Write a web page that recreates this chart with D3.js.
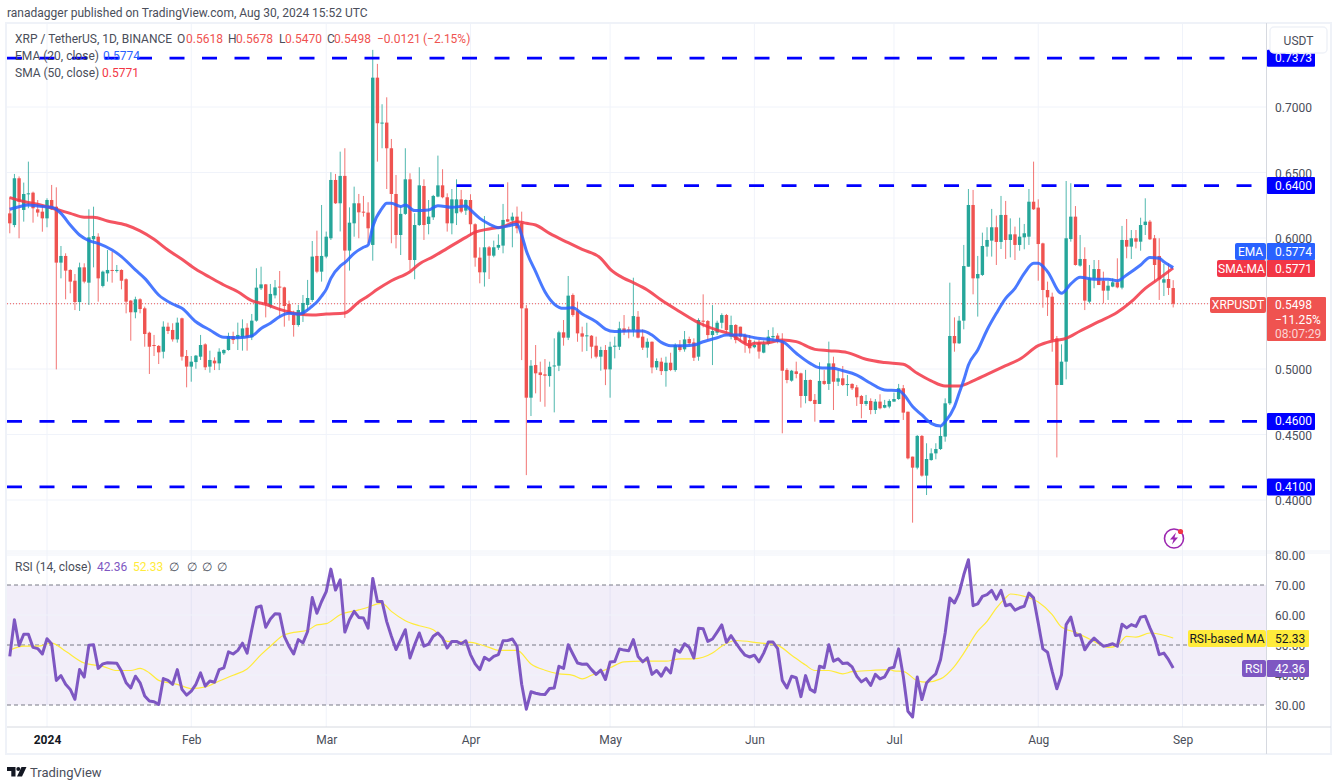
<!DOCTYPE html>
<html>
<head>
<meta charset="utf-8">
<title>XRP / TetherUS</title>
<script src="https://cdn.jsdelivr.net/npm/d3@7"></script>
<style>
    html, body { margin: 0; padding: 0; background: #fff; }
    svg { display: block; }
    text { font-family: Roboto, sans-serif; }
</style>
</head>
<body>
<svg id="chart" width="1338" height="784"></svg>
<script>
// Daily candles, 24 Dec 2023 to 30 Aug 2024
const firstDay = '2023-12-24';

const opens = [
    .6188,.6099,.6456,.6214,.6336,.6346,.6219,.6201,.6150,.6290,
    .6239,.5812,.5863,.5756,.5674,.5511,.5776,.5659,.5990,.6010,
    .5634,.5730,.5756,.5751,.5756,.5685,.5522,.5433,.5532,.5463,
    .5277,.5183,.5176,.5132,.5323,.5298,.5226,.5387,.5099,.5018,
    .5053,.5094,.5188,.5018,.5064,.5043,.5120,.5145,.5252,.5234,
    .5242,.5315,.5242,.5369,.5616,.5646,.5476,.5562,.5629,.5623,
    .5496,.5412,.5336,.5412,.5489,.5527,.5863,.5743,.5858,.5998,
    .6443,.6265,.6474,.5904,.6112,.6265,.6201,.6194,.5947,.7224,
    .6876,.6881,.6685,.6336,.6023,.6184,.6448,.5832,.6099,.6397,
    .6107,.6158,.6316,.6402,.6311,.6112,.6189,.6295,.6209,.6290,
    .6105,.5850,.5738,.5929,.5865,.5926,.5942,.6143,.6133,.6163,
    .6112,.5463,.4781,.5030,.4974,.4959,.4946,.5025,.5025,.5280,
    .5239,.5565,.5442,.5272,.5254,.5254,.5178,.5094,.5145,.4997,
    .5170,.5170,.5310,.5302,.5297,.5399,.5247,.5163,.5208,.5012,
    .5056,.4984,.5048,.4992,.5183,.5150,.5229,.5203,.5094,.5369,
    .5366,.5259,.5277,.5353,.5412,.5247,.5336,.5323,.5259,.5221,
    .5166,.5201,.5125,.5191,.5242,.5255,.5209,.4993,.4911,.4982,
    .4967,.4794,.4916,.4764,.4733,.4909,.4886,.5043,.4903,.4929,
    .4883,.4886,.4860,.4794,.4733,.4756,.4687,.4751,.4705,.4713,
    .4751,.4771,.4853,.4674,.4331,.4247,.4489,.4186,.4305,.4356,
    .4389,.4484,.4738,.5252,.5196,.5369,.5781,.6252,.5692,.5718,
    .5934,.5980,.6082,.5970,.6176,.5985,.6028,.5947,.6005,.6010,
    .6277,.6232,.5959,.5603,.5552,.5234,.4878,.5056,.5992,.6163,
    .5789,.5840,.5514,.5692,.5763,.5674,.5598,.5629,.5662,.5621,
    .5985,.5934,.5998,.5972,.6099,.6125,.5998,.5863,.5659,.5687,
    .5618
];
const highs = [
    .6316,.6489,.6470,.6423,.6583,.6354,.6290,.6252,.6303,.6405,
    .6387,.5939,.5883,.5761,.5725,.5812,.5807,.6219,.6239,.6036,
    .5751,.5908,.5896,.5794,.5761,.5692,.5527,.5552,.5540,.5476,
    .5285,.5260,.5183,.5364,.5354,.5349,.5392,.5392,.5145,.5099,
    .5107,.5260,.5196,.5140,.5089,.5158,.5150,.5277,.5285,.5354,
    .5379,.5349,.5420,.5769,.5781,.5649,.5649,.5679,.5748,.5628,
    .5522,.5445,.5489,.5565,.5680,.5977,.6056,.6252,.6049,.6502,
    .6489,.6659,.6685,.6234,.6392,.6336,.6321,.6273,.7436,.7329,
    .7021,.7074,.6756,.6481,.6240,.6685,.6494,.6189,.6540,.6448,
    .6290,.6329,.6629,.6525,.6341,.6374,.6448,.6367,.6295,.6334,
    .6112,.5929,.6168,.5939,.5980,.6028,.6260,.6425,.6194,.6240,
    .6201,.5488,.5068,.5183,.5056,.5076,.5056,.5234,.5292,.5374,
    .5710,.5577,.5514,.5323,.5353,.5259,.5247,.5170,.5183,.5208,
    .5247,.5361,.5412,.5323,.5697,.5442,.5303,.5234,.5210,.5081,
    .5086,.5094,.5124,.5196,.5221,.5290,.5247,.5234,.5387,.5570,
    .5374,.5488,.5369,.5425,.5420,.5407,.5343,.5323,.5272,.5259,
    .5217,.5222,.5217,.5298,.5318,.5273,.5273,.5006,.4993,.5056,
    .4972,.4993,.4921,.4809,.5051,.4993,.5209,.5094,.4993,.5023,
    .4954,.4891,.4878,.4802,.4802,.4776,.4771,.4807,.4764,.4769,
    .4820,.4886,.4878,.4674,.4331,.4496,.4496,.4433,.4394,.4433,
    .4560,.4776,.5659,.5394,.5405,.5947,.6374,.6367,.5863,.6041,
    .6082,.6222,.6171,.6321,.6283,.6150,.6087,.6155,.6107,.6374,
    .6583,.6295,.5964,.5667,.5583,.5252,.5188,.6435,.6418,.6244,
    .6023,.5929,.5794,.5832,.5832,.5743,.5674,.5692,.5845,.6092,
    .6145,.6061,.6061,.6155,.6303,.6138,.6023,.5998,.5802,.5807,
    .5678
];
const lows = [
    .6036,.6082,.5998,.6125,.6227,.6117,.6163,.6048,.6082,.6214,
    .4997,.5692,.5532,.5578,.5450,.5443,.5654,.5489,.5776,.5514,
    .5623,.5667,.5659,.5736,.5608,.5425,.5216,.5387,.5425,.5170,
    .4962,.5099,.5038,.5081,.5267,.5209,.5201,.5064,.4860,.4903,
    .5002,.5069,.4992,.4972,.4992,.4992,.5107,.5140,.5191,.5145,
    .5140,.5140,.5221,.5361,.5603,.5394,.5463,.5539,.5400,.5323,
    .5369,.5247,.5323,.5359,.5451,.5512,.5731,.5667,.5845,.5985,
    .6260,.6050,.5390,.5751,.6010,.5998,.6163,.5960,.5827,.6583,
    .6685,.6374,.5960,.5921,.5870,.6176,.5756,.5685,.6092,.5985,
    .6028,.6138,.6311,.6303,.6049,.6028,.6099,.6189,.6176,.6018,
    .5781,.5654,.5629,.5687,.5853,.5909,.5883,.6120,.5929,.6036,
    .5068,.4190,.4641,.4814,.4750,.4712,.4865,.4669,.4984,.5178,
    .5221,.5399,.5208,.5132,.5137,.5081,.5081,.4987,.4877,.4781,
    .5081,.5145,.5259,.5234,.5247,.5234,.5145,.5086,.4967,.4992,
    .4954,.4865,.4984,.4979,.5132,.5132,.5183,.5061,.5063,.5318,
    .5221,.5030,.5259,.5310,.5272,.5226,.5196,.5208,.5124,.5119,
    .5158,.5079,.5120,.5181,.5209,.5196,.4509,.4891,.4903,.4929,
    .4705,.4738,.4751,.4598,.4733,.4878,.4840,.4687,.4870,.4870,
    .4794,.4840,.4718,.4624,.4718,.4654,.4657,.4692,.4700,.4700,
    .4751,.4764,.4611,.4310,.3827,.4234,.4178,.4038,.4300,.4311,
    .4382,.4445,.4725,.5132,.5191,.5303,.5781,.5570,.5400,.5710,
    .5858,.5858,.5794,.5916,.5840,.5852,.5832,.5903,.5914,.5947,
    .6214,.5674,.5468,.5405,.5132,.4325,.4878,.4921,.5972,.5789,
    .5781,.5450,.5501,.5616,.5641,.5501,.5527,.5624,.5616,.5608,
    .5845,.5840,.5921,.5903,.6023,.5985,.5667,.5527,.5557,.5565,
    .5470
];
const closes = [
    .6112,.6456,.6278,.6336,.6341,.6227,.6194,.6150,.6290,.6219,
    .5812,.5863,.5751,.5667,.5511,.5776,.5667,.6005,.6015,.5692,
    .5743,.5756,.5751,.5756,.5674,.5514,.5433,.5532,.5458,.5267,
    .5170,.5178,.5127,.5323,.5290,.5226,.5354,.5094,.5018,.5056,
    .5102,.5183,.5013,.5069,.5043,.5132,.5145,.5252,.5221,.5260,
    .5310,.5242,.5369,.5621,.5646,.5496,.5573,.5623,.5623,.5481,
    .5425,.5336,.5450,.5504,.5542,.5858,.5743,.5863,.6010,.6443,
    .6265,.6474,.5904,.6117,.6265,.6196,.6196,.6074,.7224,.6876,
    .6881,.6685,.6336,.6023,.6184,.6448,.5832,.6099,.6402,.6099,
    .6163,.6321,.6402,.6311,.6112,.6295,.6295,.6201,.6290,.6105,
    .5850,.5738,.5929,.5865,.5929,.5947,.6138,.6125,.6163,.6074,
    .5463,.4781,.5025,.4967,.4954,.4949,.5017,.5027,.5280,.5239,
    .5560,.5412,.5272,.5247,.5257,.5170,.5094,.5145,.4997,.5170,
    .5178,.5310,.5285,.5297,.5404,.5239,.5163,.5208,.5012,.5061,
    .4984,.5048,.4992,.5183,.5145,.5226,.5196,.5086,.5374,.5361,
    .5259,.5290,.5353,.5412,.5297,.5336,.5221,.5247,.5196,.5158,
    .5183,.5133,.5191,.5247,.5252,.5209,.4987,.4916,.4987,.4962,
    .4794,.4916,.4756,.4733,.4909,.4886,.5043,.4903,.4929,.4878,
    .4885,.4853,.4784,.4733,.4756,.4687,.4751,.4700,.4725,.4756,
    .4771,.4853,.4667,.4318,.4247,.4489,.4186,.4313,.4356,.4389,
    .4489,.4738,.5252,.5196,.5369,.5786,.6252,.5692,.5725,.5939,
    .5985,.6082,.5970,.6176,.5985,.6028,.5947,.6010,.6036,.6277,
    .6219,.5954,.5603,.5547,.5222,.4878,.5056,.5998,.6163,.5794,
    .5840,.5522,.5692,.5763,.5641,.5598,.5636,.5662,.5623,.5985,
    .5934,.5998,.5972,.6099,.6125,.5990,.5794,.5685,.5685,.5619,
    .5498
];

// EMA 20 and SMA 50, read every few days (candle number, price)
const emaDays = [0,2,4,6,9,11,13,15,17,19,22,24,27,29,32,35,37,40,43,46,49,52,54,56,58,60,62,63,64,65,66,67,68,69,71,72,74,76,77,78,80,81,82,84,85,87,90,92,95,98,99,101,103,105,107,109,110,111,113,115,117,119,121,123,126,128,130,133,136,138,140,142,145,147,149,152,154,157,159,160,163,166,169,172,174,177,179,182,185,188,191,192,194,196,198,200,201,203,204,205,206,208,210,212,214,216,218,220,221,223,226,228,230,233,236,238,240,243,245,247,248,250];
const emaValues = [.6219,.6239,.6252,.6244,.6234,.6188,.6099,.6023,.5980,.5959,.5908,.5858,.5756,.5692,.5565,.5496,.5463,.5361,.5298,.5242,.5239,.5252,.5310,.5349,.5400,.5425,.5420,.5428,.5451,.5481,.5512,.5557,.5608,.5692,.5786,.5812,.5883,.5929,.5947,.6087,.6227,.6265,.6265,.6240,.6252,.6209,.6214,.6247,.6234,.6245,.6214,.6150,.6107,.6079,.6092,.6105,.6023,.5903,.5743,.5590,.5496,.5463,.5468,.5420,.5361,.5305,.5287,.5290,.5290,.5259,.5203,.5178,.5178,.5183,.5208,.5239,.5259,.5259,.5247,.5239,.5227,.5209,.5120,.5043,.5010,.5005,.4987,.4954,.4891,.4840,.4835,.4809,.4713,.4649,.4585,.4565,.4598,.4713,.4814,.4916,.5031,.5145,.5298,.5425,.5539,.5616,.5730,.5807,.5807,.5743,.5578,.5649,.5700,.5685,.5685,.5674,.5718,.5794,.5852,.5845,.5819,.5774];
const smaDays = [0,3,6,10,13,16,18,21,25,28,31,34,37,40,43,46,49,52,55,58,62,65,68,72,75,77,79,82,86,88,91,94,98,100,103,106,109,110,111,113,116,120,123,127,129,132,134,137,140,144,148,152,155,159,160,163,166,169,173,176,180,184,188,192,195,198,201,204,207,210,214,217,221,224,227,230,234,238,241,244,247,250];
const smaValues = [.6308,.6278,.6257,.6219,.6188,.6158,.6158,.6130,.6099,.6054,.5990,.5908,.5837,.5761,.5700,.5641,.5590,.5522,.5494,.5455,.5420,.5412,.5420,.5428,.5512,.5557,.5608,.5674,.5743,.5802,.5858,.5921,.6005,.6044,.6069,.6087,.6125,.6120,.6112,.6099,.6035,.5964,.5913,.5845,.5763,.5692,.5659,.5603,.5526,.5437,.5353,.5297,.5264,.5183,.5196,.5201,.5222,.5209,.5150,.5140,.5125,.5074,.5049,.5036,.4967,.4909,.4870,.4870,.4909,.4959,.5025,.5074,.5178,.5214,.5234,.5290,.5361,.5433,.5514,.5616,.5692,.5771];

// RSI 14 daily, one value per candle
const rsiValues = [
    46.2,58.4,49.8,53.6,53.6,49.2,48.8,47.0,52.1,50.3,
    38.2,39.8,36.9,35.2,31.9,41.8,39.3,49.9,50.1,42.2,
    43.7,44.1,44.0,43.9,41.3,37.4,35.7,39.6,37.4,33.0,
    31.3,31.1,30.2,38.8,38.2,36.9,41.8,35.2,33.3,34.6,
    36.9,40.7,36.3,38.0,37.6,41.8,42.4,47.7,47.0,48.2,
    50.6,47.3,55.1,62.5,63.0,55.9,58.7,60.4,60.3,52.9,
    49.6,47.0,51.8,50.7,54.5,65.8,60.6,64.5,67.8,75.3,
    68.3,71.7,54.3,58.4,61.2,59.2,59.0,55.6,72.2,64.5,
    64.5,57.8,52.9,48.5,51.8,55.1,45.7,50.1,54.0,49.6,
    50.3,52.9,54.0,52.3,49.0,51.2,51.2,50.4,51.4,46.8,
    43.7,41.8,45.9,44.9,46.2,46.8,51.4,51.5,52.0,49.6,
    36.9,28.6,34.4,33.9,33.6,33.5,35.5,35.7,42.9,42.2,
    50.1,47.0,44.0,43.6,43.7,41.8,40.2,41.6,38.5,44.3,
    44.5,48.7,48.3,48.1,51.8,46.2,44.4,45.7,40.2,41.5,
    39.6,42.4,40.7,48.5,47.6,50.4,49.2,45.7,55.6,55.4,
    51.2,52.0,54.3,56.7,50.9,53.1,50.7,48.5,46.6,46.0,
    46.6,44.4,47.3,51.0,51.0,48.8,38.2,35.7,39.6,39.1,
    32.8,39.8,35.2,34.3,42.9,42.4,50.1,44.6,45.4,43.8,
    44.0,42.7,39.6,37.7,38.8,36.5,40.2,38.7,39.4,42.2,
    42.6,48.7,39.6,27.9,26.0,39.3,31.8,37.3,39.0,40.4,
    45.1,54.0,65.7,64.0,67.3,73.4,78.4,63.1,63.7,66.2,
    66.8,68.2,65.3,68.2,63.1,63.6,61.6,62.4,62.9,67.3,
    65.7,57.3,48.7,47.6,41.2,35.4,40.1,56.8,59.3,53.2,
    53.4,48.4,50.7,52.3,50.9,49.6,49.9,50.4,49.6,56.9,
    55.7,56.8,56.2,59.3,59.6,55.7,52.3,46.8,47.3,45.1,
    42.36
];
const rsiMaDays = [0,3,6,9,12,16,20,23,26,28,30,32,36,39,42,45,48,51,54,56,59,61,64,66,68,71,75,77,79,80,82,85,88,91,94,96,99,103,105,109,112,115,118,121,123,125,129,132,136,141,144,147,151,153,156,161,165,168,171,173,176,179,181,185,189,190,192,195,197,200,203,205,208,210,212,214,215,218,221,224,226,229,232,236,238,240,242,245,250];
const rsiMaValues = [48.3,49.6,49.6,50.6,47.9,44.0,42.9,41.5,41.5,42.2,40.7,38.2,36.9,35.5,36.0,38.0,39.9,42.0,46.8,49.6,53.4,54.2,54.9,56.7,57.1,60.1,61.7,62.6,63.7,63.9,61.2,58.1,56.4,55.1,51.2,51.1,50.9,49.2,48.2,48.2,43.7,41.6,40.4,39.9,38.7,39.9,42.4,44.4,44.6,44.6,45.4,45.4,47.3,49.6,51.5,50.7,49.9,46.6,43.3,41.5,41.5,40.4,41.1,41.5,41.8,41.4,41.2,38.1,37.6,38.7,42.9,47.3,54.6,57.9,62.3,65.7,67.0,66.2,64.3,60.1,56.0,54.2,52.0,49.2,49.8,52.9,52.6,54.0,52.33];

// Axis ticks and the horizontal levels drawn on the chart
const priceGrid = [0.70, 0.65, 0.60, 0.55, 0.50, 0.45, 0.40];
const priceTicks = [0.70, 0.65, 0.60, 0.50, 0.45, 0.40]; // 0.55 sits behind the XRPUSDT tag
const rsiTicks = [80, 70, 60, 50, 40, 30];
const rsiDashed = [70, 50, 30];
const monthTicks = ['2024-01-01','2024-02-01','2024-03-01','2024-04-01','2024-05-01','2024-06-01','2024-07-01','2024-08-01','2024-09-01'];
const monthLabels = ['2024','Feb','Mar','Apr','May','Jun','Jul','Aug','Sep'];
const levelPrices = [0.7373, 0.64, 0.46, 0.41];
const levelStarts = ['2023-12-23','2024-03-29','2023-12-23','2023-12-23'];

const colors = {
    up: '#26a69a', down: '#ef5350', ema: '#2962ff', sma: '#f23645',
    level: '#0000ff', rsi: '#7e57c2', rsiMa: '#ffeb3b', grid: '#f0f3fa',
    frame: '#eff2f8', axis: '#d6d9e0', text: '#131722', muted: '#4a4e5a'
};

const svg = d3.select('#chart');
const paneLeft = 7, paneRight = 1266;
const mainTop = 24, mainBottom = 550, rsiTop = 553, rsiBottom = 727;

const parseDay = d3.utcParse('%Y-%m-%d');
const dayAt = i => d3.utcDay.offset(parseDay(firstDay), i);

const x = d3.scaleUtc()
    .domain([parseDay('2024-01-01'), parseDay('2024-09-01')])
    .range([47, 1182.5]);
const y = d3.scaleLinear().domain([0.40, 0.70]).range([500, 107]);
const yRsi = d3.scaleLinear().domain([30, 70]).range([705, 585]);

const defs = svg.append('defs');
defs.append('clipPath').attr('id', 'main-clip').append('rect')
    .attr('x', paneLeft).attr('y', mainTop)
    .attr('width', paneRight - paneLeft).attr('height', mainBottom - mainTop);
defs.append('clipPath').attr('id', 'rsi-clip').append('rect')
    .attr('x', paneLeft).attr('y', rsiTop)
    .attr('width', paneRight - paneLeft).attr('height', rsiBottom - rsiTop);

// Header line
svg.append('text').attr('x', 7).attr('y', 16.5)
    .attr('font-size', 12).attr('fill', colors.muted)
    .text('ranadagger published on TradingView.com, Aug 30, 2024 15:52 UTC');

// Grid
const grid = svg.append('g');
monthTicks.forEach(d => {
    grid.append('line').attr('x1', x(parseDay(d))).attr('x2', x(parseDay(d)))
        .attr('y1', mainTop).attr('y2', rsiBottom)
        .attr('stroke', colors.grid).attr('stroke-width', 1);
});
priceGrid.forEach(p => {
    grid.append('line').attr('x1', paneLeft).attr('x2', paneRight)
        .attr('y1', y(p)).attr('y2', y(p))
        .attr('stroke', colors.grid).attr('stroke-width', 1);
});

// RSI band and its lines
const rsiPane = svg.append('g').attr('clip-path', 'url(#rsi-clip)');
rsiPane.append('rect')
    .attr('x', paneLeft).attr('width', paneRight - paneLeft)
    .attr('y', yRsi(70)).attr('height', yRsi(30) - yRsi(70))
    .attr('fill', colors.rsi).attr('fill-opacity', 0.1);
[60, 40, 80].forEach(v => {
    rsiPane.append('line').attr('x1', paneLeft).attr('x2', paneRight)
        .attr('y1', yRsi(v)).attr('y2', yRsi(v))
        .attr('stroke', colors.grid).attr('stroke-width', 1);
});
rsiDashed.forEach(v => {
    rsiPane.append('line').attr('x1', paneLeft).attr('x2', paneRight)
        .attr('y1', yRsi(v)).attr('y2', yRsi(v))
        .attr('stroke', '#787b86').attr('stroke-width', 1)
        .attr('stroke-dasharray', '4,3');
});

// Candles
const candles = opens.map((open, i) => ({
    date: dayAt(i), open, high: highs[i], low: lows[i], close: closes[i]
}));
const mainPane = svg.append('g').attr('clip-path', 'url(#main-clip)');

// Last price dotted line
mainPane.append('line')
    .attr('x1', paneLeft).attr('x2', paneRight)
    .attr('y1', y(closes[closes.length - 1])).attr('y2', y(closes[closes.length - 1]))
    .attr('stroke', colors.down).attr('stroke-width', 1)
    .attr('stroke-dasharray', '1,2');

const candleG = mainPane.append('g').selectAll('g')
    .data(candles)
    .enter()
    .append('g');
candleG.append('line')
    .attr('x1', d => x(d.date)).attr('x2', d => x(d.date))
    .attr('y1', d => y(d.high)).attr('y2', d => y(d.low))
    .attr('stroke', d => d.close >= d.open ? colors.up : colors.down)
    .attr('stroke-opacity', 0.8)
    .attr('stroke-width', 1);
candleG.append('rect')
    .attr('x', d => x(d.date) - 1.7).attr('width', 3.4)
    .attr('y', d => y(Math.max(d.open, d.close)))
    .attr('height', d => Math.max(1, Math.abs(y(d.open) - y(d.close))))
    .attr('fill', d => d.close >= d.open ? colors.up : colors.down);

// Horizontal levels
levelPrices.forEach((p, i) => {
    mainPane.append('line')
        .attr('x1', Math.max(paneLeft, x(parseDay(levelStarts[i]))))
        .attr('x2', paneRight)
        .attr('y1', y(p)).attr('y2', y(p))
        .attr('stroke', colors.level).attr('stroke-width', 2.8)
        .attr('stroke-dasharray', '15,17.5');
});

// Moving averages
const maLine = d3.line()
    .x(d => x(dayAt(d.day)))
    .y(d => y(d.value))
    .curve(d3.curveMonotoneX);
mainPane.append('path')
    .attr('d', maLine(smaDays.map((day, i) => ({ day, value: smaValues[i] }))))
    .attr('fill', 'none').attr('stroke', colors.sma)
    .attr('stroke-opacity', 0.85).attr('stroke-width', 3);
mainPane.append('path')
    .attr('d', maLine(emaDays.map((day, i) => ({ day, value: emaValues[i] }))))
    .attr('fill', 'none').attr('stroke', colors.ema)
    .attr('stroke-opacity', 0.85).attr('stroke-width', 3);

// RSI lines
rsiPane.append('path')
    .attr('d', d3.line()
        .x(d => x(dayAt(d.day)))
        .y(d => yRsi(d.value))
        .curve(d3.curveMonotoneX)(rsiMaDays.map((day, i) => ({ day, value: rsiMaValues[i] }))))
    .attr('fill', 'none').attr('stroke', colors.rsiMa).attr('stroke-width', 1.2);
rsiPane.append('path')
    .attr('d', d3.line()
        .x((d, i) => x(dayAt(i)))
        .y(d => yRsi(d))(rsiValues))
    .attr('fill', 'none').attr('stroke', colors.rsi)
    .attr('stroke-width', 3).attr('stroke-linejoin', 'round');

// Frame and pane separators
const frame = svg.append('g').attr('fill', 'none');
frame.append('rect').attr('x', 6).attr('y', 23).attr('width', 1325).attr('height', 731)
    .attr('stroke', colors.frame).attr('stroke-width', 2);
[551, 553].forEach(v => {
    frame.append('line').attr('x1', 7).attr('x2', 1331).attr('y1', v).attr('y2', v)
        .attr('stroke', colors.frame).attr('stroke-width', 1);
});
frame.append('line').attr('x1', 7).attr('x2', 1331).attr('y1', rsiBottom).attr('y2', rsiBottom)
    .attr('stroke', colors.axis).attr('stroke-width', 1);
frame.append('line').attr('x1', paneRight + 0.5).attr('x2', paneRight + 0.5).attr('y1', 23).attr('y2', 754)
    .attr('stroke', colors.axis).attr('stroke-width', 1);

// Axes
const priceAxis = svg.append('g')
    .attr('transform', `translate(${paneRight + 9},1)`)
    .call(d3.axisRight(y).tickValues(priceTicks).tickFormat(d3.format('.4f')).tickSize(0).tickPadding(0));
const rsiAxis = svg.append('g')
    .attr('transform', `translate(${paneRight + 9},1)`)
    .call(d3.axisRight(yRsi).tickValues(rsiTicks).tickFormat(d3.format('.2f')).tickSize(0).tickPadding(0));
const timeAxis = svg.append('g')
    .attr('transform', `translate(0,${rsiBottom + 1})`)
    .call(d3.axisBottom(x)
        .tickValues(monthTicks.map(parseDay))
        .tickFormat((d, i) => monthLabels[i])
        .tickSize(0).tickPadding(7));
[priceAxis, rsiAxis, timeAxis].forEach(a => {
    a.select('.domain').remove();
    a.selectAll('text')
        .style('font-family', 'Roboto, sans-serif')
        .style('font-size', '12px')
        .attr('fill', colors.muted);
});
timeAxis.selectAll('text').filter((d, i) => i === 0)
    .style('font-weight', 'bold').attr('fill', colors.text);

// Axis tags: [left tag] + value tag
function tag(opts) {
    const g = svg.append('g');
    if (opts.name) {
        g.append('rect').attr('x', opts.nameX).attr('y', opts.top)
            .attr('width', paneRight - opts.nameX).attr('height', opts.h)
            .attr('rx', 2).attr('fill', opts.fill);
        g.append('text').attr('x', (opts.nameX + paneRight) / 2).attr('y', opts.top + opts.h / 2 + 4)
            .attr('text-anchor', 'middle').attr('font-size', 12)
            .attr('fill', opts.color).text(opts.name);
    }
    g.append('rect').attr('x', paneRight + 1).attr('y', opts.top)
        .attr('width', opts.valueW).attr('height', opts.valueH || opts.h)
        .attr('rx', 1).attr('fill', opts.fill);
    (Array.isArray(opts.value) ? opts.value : [opts.value]).forEach((t, i) => {
        g.append('text').attr('x', paneRight + 9).attr('y', opts.top + opts.h / 2 + 4 + i * 14.5)
            .attr('font-size', 12).attr('fill', opts.color)
            .attr('fill-opacity', i === 2 ? 0.75 : 1).text(t);
    });
}
levelPrices.forEach(p => {
    tag({ top: y(p) - 8.5, h: 17, valueW: 48, fill: colors.level, color: '#fff', value: d3.format('.4f')(p) });
});
tag({ name: 'EMA', nameX: 1235, top: 243, h: 17, valueW: 48, fill: colors.ema, color: '#fff', value: '0.5774' });
tag({ name: 'SMA:MA', nameX: 1217, top: 260, h: 17, valueW: 48, fill: colors.sma, color: '#fff', value: '0.5771' });
tag({ name: 'XRPUSDT', nameX: 1210, top: 297, h: 16, valueW: 59, valueH: 44, fill: colors.down, color: '#fff',
    value: ['0.5498', '\u221211.25%', '08:07:29'] });
tag({ name: 'RSI-based MA', nameX: 1188, top: 630, h: 17, valueW: 42, fill: colors.rsiMa, color: '#131722', value: '52.33' });
tag({ name: 'RSI', nameX: 1242, top: 660, h: 17, valueW: 42, fill: colors.rsi, color: '#fff', value: '42.36' });

// Currency button
svg.append('rect').attr('x', 1270).attr('y', 27).attr('width', 57).attr('height', 26)
    .attr('rx', 4).attr('fill', '#fff').attr('stroke', colors.frame).attr('stroke-width', 1.5);
svg.append('text').attr('x', 1298.5).attr('y', 45).attr('text-anchor', 'middle')
    .attr('font-size', 12).attr('fill', colors.muted).text('USDT');

// Legends
function legendRow(baseline, parts) {
    parts.forEach(([label, px, color]) => {
        svg.append('text').attr('x', px).attr('y', baseline)
            .attr('font-size', 12).attr('fill', color).text(label);
    });
}
legendRow(43, [
    ['XRP / TetherUS, 1D, BINANCE', 15, colors.muted],
    ['O', 177, colors.muted], ['0.5618', 186, colors.down],
    ['H', 228, colors.muted], ['0.5678', 236, colors.down],
    ['L', 279, colors.muted], ['0.5470', 285, colors.down],
    ['C', 327, colors.muted], ['0.5498', 334, colors.down],
    ['\u22120.0121', 377, colors.down], ['(\u22122.15%)', 423, colors.down]
]);
legendRow(60, [['EMA (20, close)', 15, colors.muted], ['0.5774', 103, colors.ema]]);
legendRow(77, [['SMA (50, close)', 15, colors.muted], ['0.5771', 102, colors.sma]]);
legendRow(571, [
    ['RSI (14, close)', 15, colors.muted], ['42.36', 97, colors.rsi], ['52.33', 133, colors.rsiMa],
    ['\u2205', 169, colors.muted], ['\u2205', 187, colors.muted], ['\u2205', 202, colors.muted], ['\u2205', 217, colors.muted]
]);

// Lightning badge
const bolt = svg.append('g').attr('transform', 'translate(1174,538.5)');
bolt.append('circle').attr('r', 9.5).attr('fill', '#fff').attr('stroke', '#9c27b0').attr('stroke-width', 1.6);
bolt.append('path').attr('d', 'M2,-6 L-4,1 L-0.5,1 L-2,6 L4,-1 L0.5,-1 Z').attr('fill', '#9c27b0');
bolt.append('circle').attr('cx', 6.5).attr('cy', -7).attr('r', 2.6).attr('fill', '#f23645');

// TradingView logo
const logo = svg.append('g').attr('transform', 'translate(7,767)').attr('fill', '#131722');
logo.append('path').attr('d', 'M0,0 H8.5 V9.5 H4.3 V4 H0 Z');
logo.append('circle').attr('cx', 11.3).attr('cy', 2).attr('r', 2);
logo.append('path').attr('d', 'M14.5,0 H19.5 L15,9.5 H10 Z');
svg.append('text').attr('x', 30).attr('y', 777).attr('font-size', 13).attr('fill', colors.muted).text('TradingView');
</script>
</body>
</html>
